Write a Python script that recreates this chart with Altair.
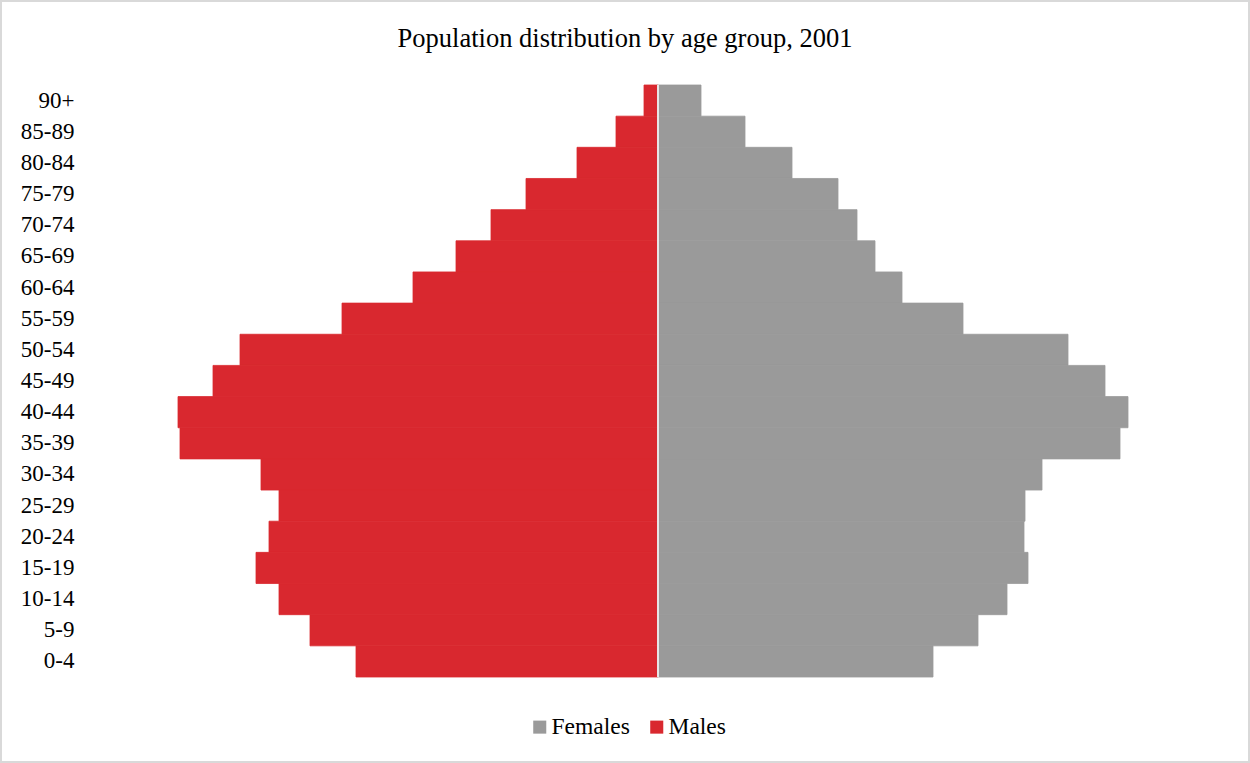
import altair as alt
import pandas as pd

# Age groups, listed from the top of the pyramid down
age_groups = ["90+", "85-89", "80-84", "75-79", "70-74", "65-69", "60-64",
              "55-59", "50-54", "45-49", "40-44", "35-39", "30-34", "25-29",
              "20-24", "15-19", "10-14", "5-9", "0-4"]

# Population per age group (thousands)
males = [14, 42, 81, 132, 167, 202, 245, 316, 418, 445, 480, 478, 397, 379,
         389, 402, 379, 348, 302]
females = [43, 87, 134, 180, 199, 217, 244, 305, 410, 447, 470, 462, 384, 367,
           366, 370, 349, 320, 275]

series = ["Females", "Males"]
colors = ["#9A9A9A", "#D9282F"]
title_text = "Population distribution by age group, 2001"

df = pd.DataFrame({"age": age_groups, "Males": males, "Females": females})
single = pd.DataFrame({"title": [title_text]})

W, H = 1126, 592
PAD = {"left": 95, "top": 85, "right": 1250 - 95 - W, "bottom": 763 - 85 - H}
FONT = "Liberation Serif"
XMAX = 563

sex_scale = alt.Scale(domain=series, range=colors)

bars = alt.Chart(df).transform_fold(
    ["Females", "Males"], as_=["sex", "value"]
).transform_calculate(
    signed="datum.sex === 'Males' ? -datum.value : datum.value"
).mark_bar(strokeWidth=0.8).encode(
    y=alt.Y("age:N", sort=age_groups, title=None,
            scale=alt.Scale(paddingInner=0, paddingOuter=0),
            axis=alt.Axis(ticks=False, domain=False, labelFontSize=23,
                          labelFont=FONT, labelColor="#000000",
                          labelPadding=21, grid=False)),
    x=alt.X("signed:Q", axis=None,
            scale=alt.Scale(domain=[-XMAX, XMAX], nice=False, zero=False)),
    x2=alt.datum(0),
    stroke=alt.Stroke("sex:N", scale=sex_scale, legend=None),
    color=alt.Color("sex:N", title=None, scale=sex_scale,
                    legend=alt.Legend(orient="none", direction="horizontal",
                                      legendX=433, legendY=630,
                                      symbolType="square", symbolSize=170,
                                      symbolStrokeWidth=0, labelFontSize=23.5,
                                      labelFont=FONT, labelColor="#000000",
                                      labelOffset=0, columnPadding=15)),
)

# Thin divider between the two halves of the pyramid
divider = alt.Chart(single).mark_rule(color="#E6E6E6", strokeWidth=2).encode(
    x=alt.datum(0),
)

# Light frame round the whole chart
frame = alt.Chart(single).mark_rect(fill=None, stroke="#D9D9D9",
                                    strokeWidth=2).encode(
    x=alt.value(-PAD["left"] + 1), x2=alt.value(W + PAD["right"] - 1),
    y=alt.value(-PAD["top"] + 1), y2=alt.value(H + PAD["bottom"] - 1),
)

# Chart heading, centred on the full canvas
heading = alt.Chart(single).mark_text(font=FONT, fontSize=26.5,
                                      color="#000000", align="center",
                                      baseline="alphabetic").encode(
    x=alt.value(625 - PAD["left"]),
    y=alt.value(47 - PAD["top"]),
    text="title:N",
)

chart = alt.layer(bars, divider, frame, heading).properties(
    width=W, height=H,
    padding=PAD,
    autosize=alt.AutoSizeParams(type="none"),
).configure_view(stroke=None)

chart.save("out.html", embed_options={"renderer": "svg", "actions": False})
